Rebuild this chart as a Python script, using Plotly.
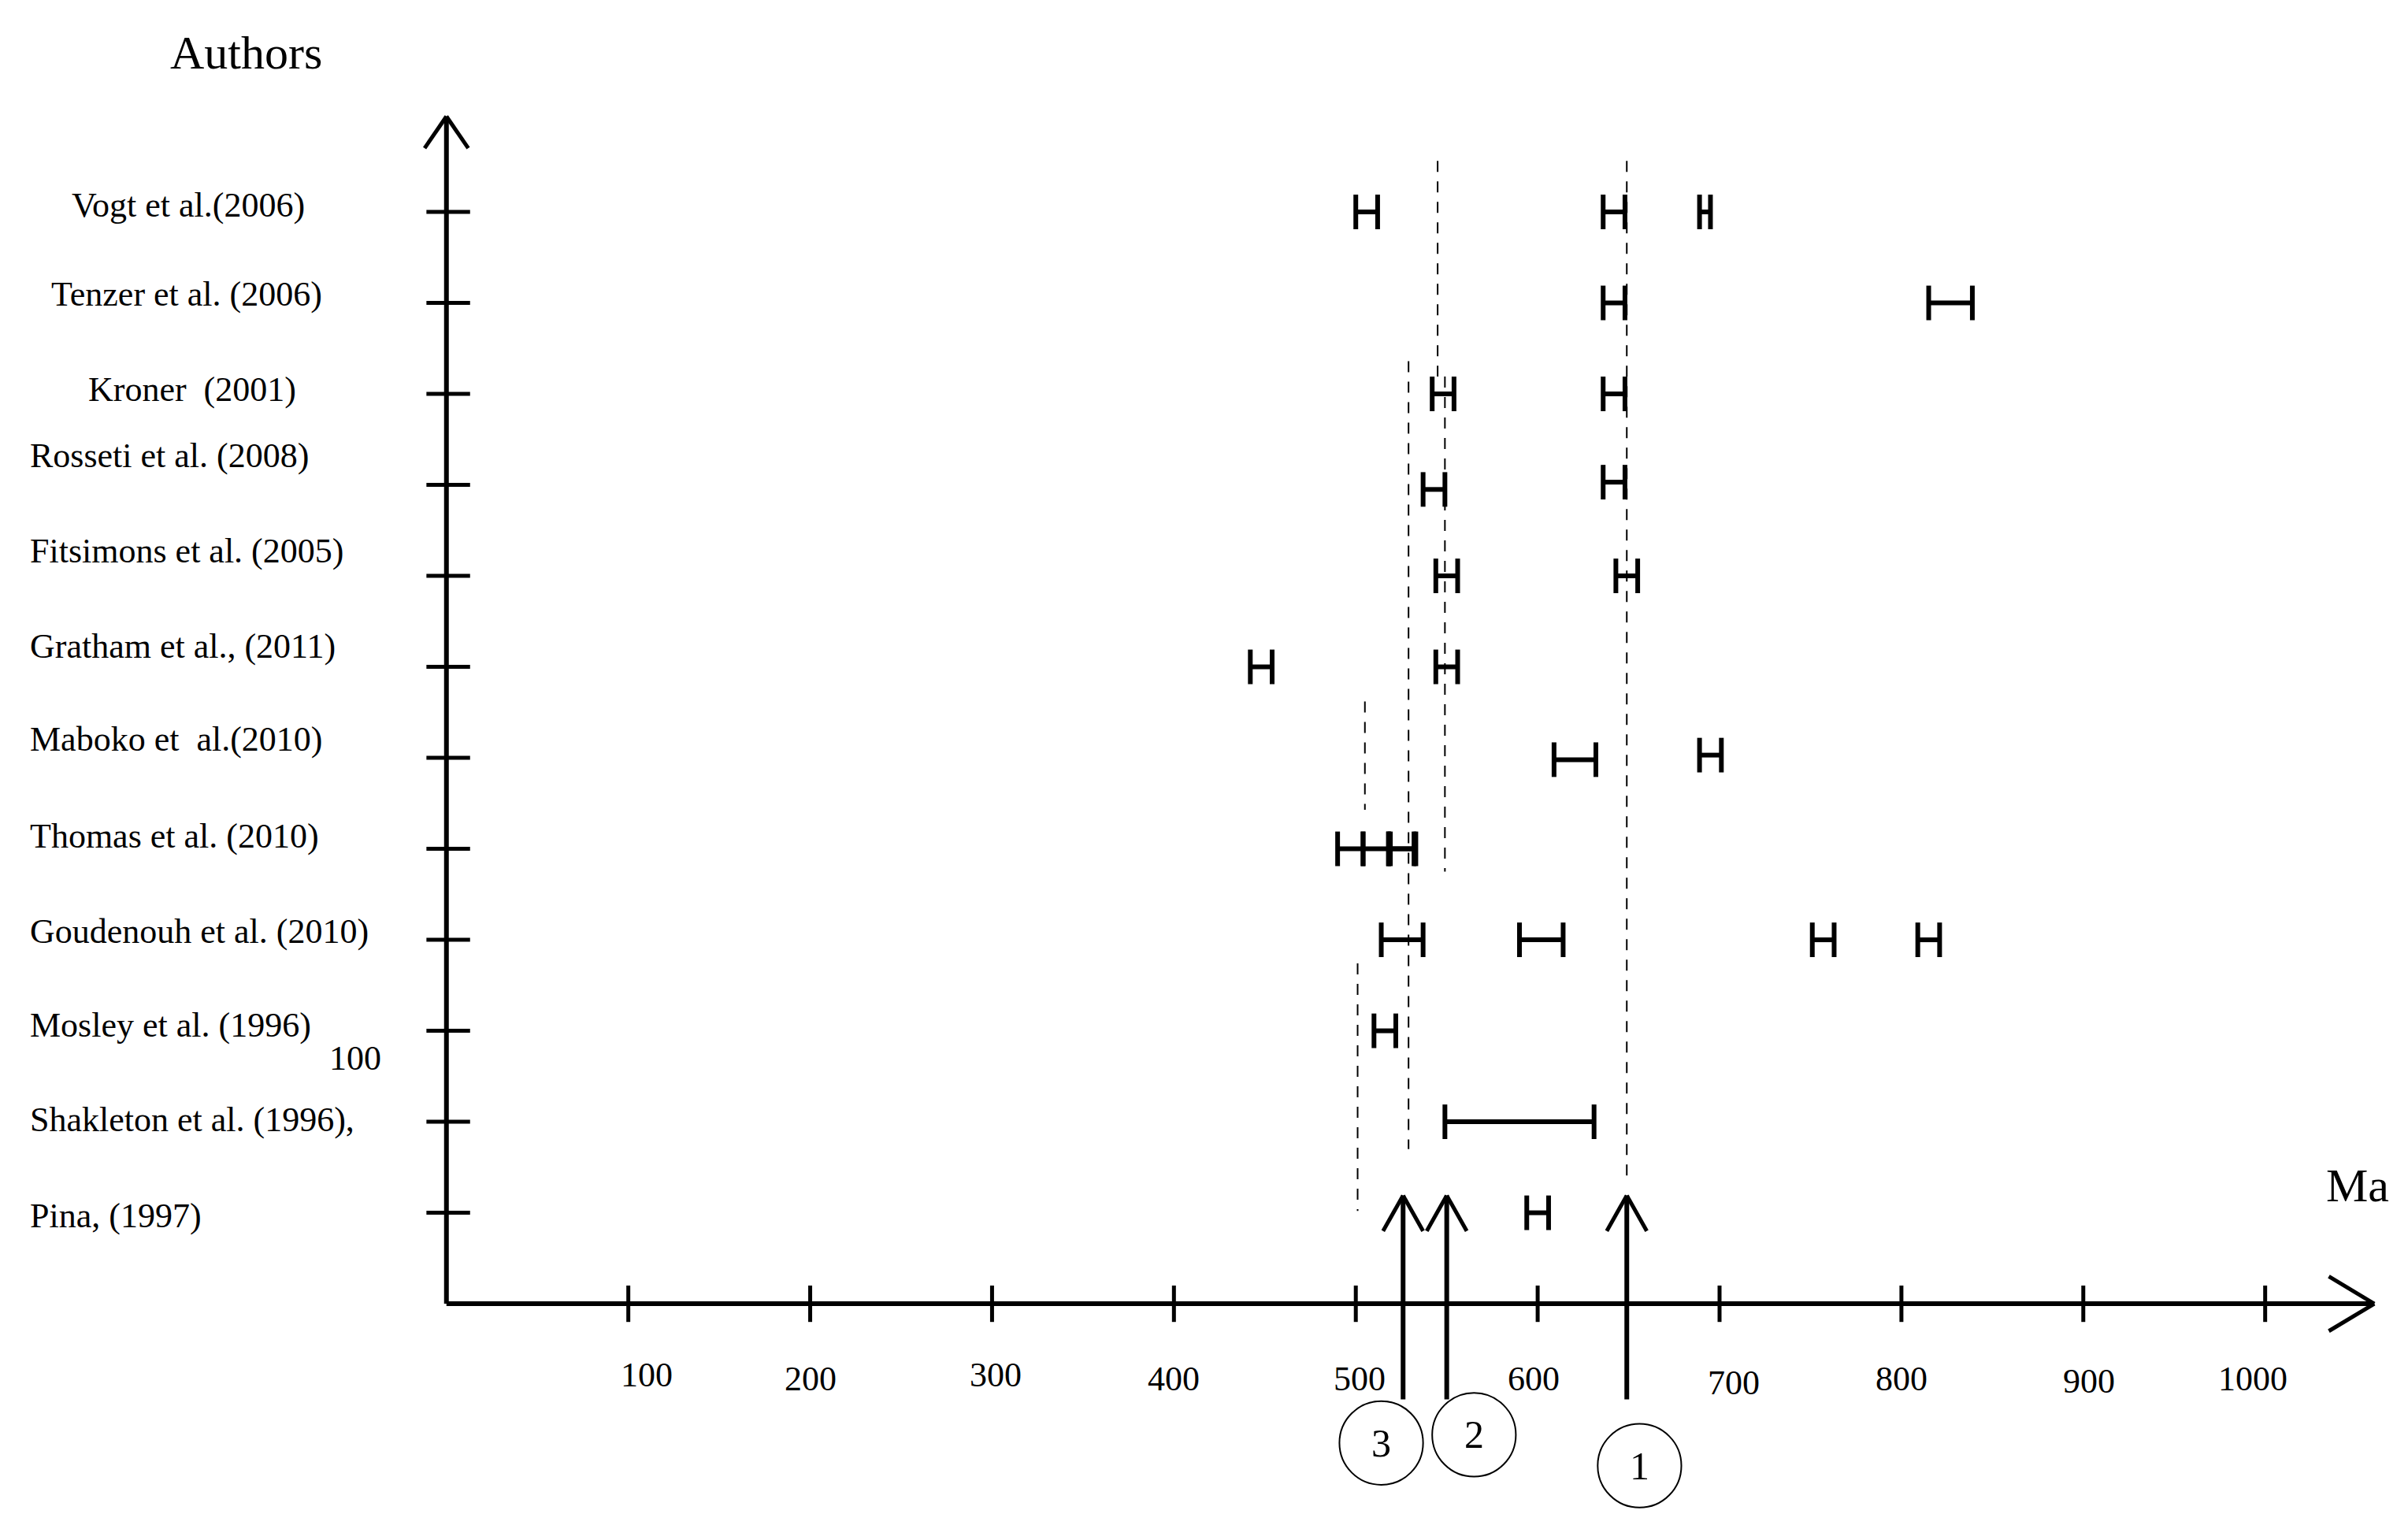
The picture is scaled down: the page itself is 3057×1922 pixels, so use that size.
import plotly.graph_objects as go

# rows (bottom to top) and author labels
authors = ["Pina, (1997)", "Shakleton et al. (1996),", "Mosley et al. (1996)",
           "Goudenouh et al. (2010)", "Thomas et al. (2010)", "Maboko et  al.(2010)",
           "Gratham et al., (2011)", "Fitsimons et al. (2005)", "Rosseti et al. (2008)",
           "Kroner  (2001)", "Tenzer et al. (2006)", "Vogt et al.(2006)"]
label_y = [0.97, 2.02, 3.06, 4.09, 5.14, 6.2, 7.23, 8.27, 9.32, 10.05, 11.1, 12.07]
label_x = [-230, -230, -230, -230, -230, -230, -230, -230, -230, -198, -218, -207]

# age estimates: row (1 = Pina), low Ma, high Ma
est_row = [12, 12, 12, 11, 11, 10, 10, 9, 9, 8, 8, 7, 7, 6, 6, 5, 5, 5, 5,
           4, 4, 4, 4, 3, 2, 1]
est_lo = [500, 636, 689, 636, 815, 542, 636, 537, 636, 544, 643, 442, 544, 609, 689,
          490, 504, 518, 519, 514, 590, 751, 809, 510, 549, 594]
est_hi = [512, 648, 695, 648, 839, 554, 648, 549, 648, 556, 655, 454, 556, 632, 701,
          504, 518, 532, 533, 537, 614, 763, 821, 522, 631, 606]
est_y_shift = [0, 0, 0, 0, 0, 0, 0, -0.05, 0.03, 0, 0, 0, 0, -0.02, 0.03, 0, 0, 0, 0,
               0, 0, 0, 0, 0, 0, 0]

# dashed guide lines: Ma, y from, y to
guide_x = [649, 545, 549, 529, 505, 501]
guide_y0 = [12.56, 12.56, 10.19, 10.36, 6.62, 3.74]
guide_y1 = [1.36, 10.19, 4.75, 1.70, 5.43, 1.02]

# events marked by arrows
event_x = [649, 550, 526]
event_label = ["1", "2", "3"]
circle_x = [656, 565, 514]
circle_y = [-1.78, -1.44, -1.53]

x_ticks = [100, 200, 300, 400, 500, 600, 700, 800, 900, 1000]
x_tick_label_x = [110, 200, 302, 400, 502, 598, 708, 800, 903, 993]
x_tick_label_y = [-0.78, -0.83, -0.78, -0.83, -0.83, -0.83, -0.87, -0.83, -0.85, -0.83]

FONT = "Liberation Serif"
fig = go.Figure()

xs, ys = [], []
for r, lo, hi, dy in zip(est_row, est_lo, est_hi, est_y_shift):
    y = r + dy
    xs += [lo, hi, None, lo, lo, None, hi, hi, None]
    ys += [y, y, None, y - 0.19, y + 0.19, None, y - 0.19, y + 0.19, None]
fig.add_trace(go.Scatter(x=xs, y=ys, mode="lines", line=dict(color="black", width=6),
                         hoverinfo="skip", showlegend=False))


def line(x0, y0, x1, y1, w, dash=None):
    d = dict(type="line", x0=x0, x1=x1, y0=y0, y1=y1, line=dict(color="black", width=w))
    if dash:
        d["line"]["dash"] = dash
    return d


shapes = []
for gx, y0, y1 in zip(guide_x, guide_y0, guide_y1):
    shapes.append(line(gx, y0, gx, y1, 2, "14px,12px"))
# axes with open arrowheads
shapes.append(line(0, 0, 1060, 0, 6))
shapes.append(line(1060, 0, 1035, 0.3, 5))
shapes.append(line(1060, 0, 1035, -0.3, 5))
shapes.append(line(0, 0, 0, 13.05, 6))
shapes.append(line(0, 13.05, -12, 12.7, 5))
shapes.append(line(0, 13.05, 12, 12.7, 5))
for t in x_ticks:
    shapes.append(line(t, -0.2, t, 0.2, 5))
for r in range(1, 13):
    shapes.append(line(-11, r, 13, r, 5))
for ex in event_x:
    shapes.append(line(ex, -1.05, ex, 1.19, 6))
    shapes.append(line(ex, 1.19, ex - 11, 0.8, 5))
    shapes.append(line(ex, 1.19, ex + 11, 0.8, 5))
for cx, cy in zip(circle_x, circle_y):
    shapes.append(dict(type="circle", x0=cx - 23, x1=cx + 23, y0=cy - 0.46, y1=cy + 0.46,
                       line=dict(color="black", width=2)))

ann = []
for cx, cy, t in zip(circle_x, circle_y, event_label):
    ann.append(dict(x=cx, y=cy, text=t, showarrow=False, font=dict(family=FONT, size=50, color="black")))
for a, lx, ly in zip(authors, label_x, label_y):
    ann.append(dict(x=lx, y=ly, text=a, showarrow=False, xanchor="left",
                    font=dict(family=FONT, size=44, color="black")))
for tx, ty, t in zip(x_tick_label_x, x_tick_label_y, x_ticks):
    ann.append(dict(x=tx, y=ty, text=str(t), showarrow=False, font=dict(family=FONT, size=44, color="black")))
ann.append(dict(x=-110, y=13.75, text="Authors", showarrow=False, font=dict(family=FONT, size=60, color="black")))
ann.append(dict(x=1051, y=1.3, text="Ma", showarrow=False, font=dict(family=FONT, size=60, color="black")))
ann.append(dict(x=-50, y=2.7, text="100", showarrow=False, font=dict(family=FONT, size=44, color="black")))

fig.update_layout(width=3057, height=1922, margin=dict(l=0, r=0, t=0, b=0),
                  plot_bgcolor="white", paper_bgcolor="white",
                  xaxis=dict(range=[-242, 1082], visible=False),
                  yaxis=dict(range=[-2.38, 14.26], visible=False),
                  shapes=shapes, annotations=ann)
fig.write_html("out.html")
